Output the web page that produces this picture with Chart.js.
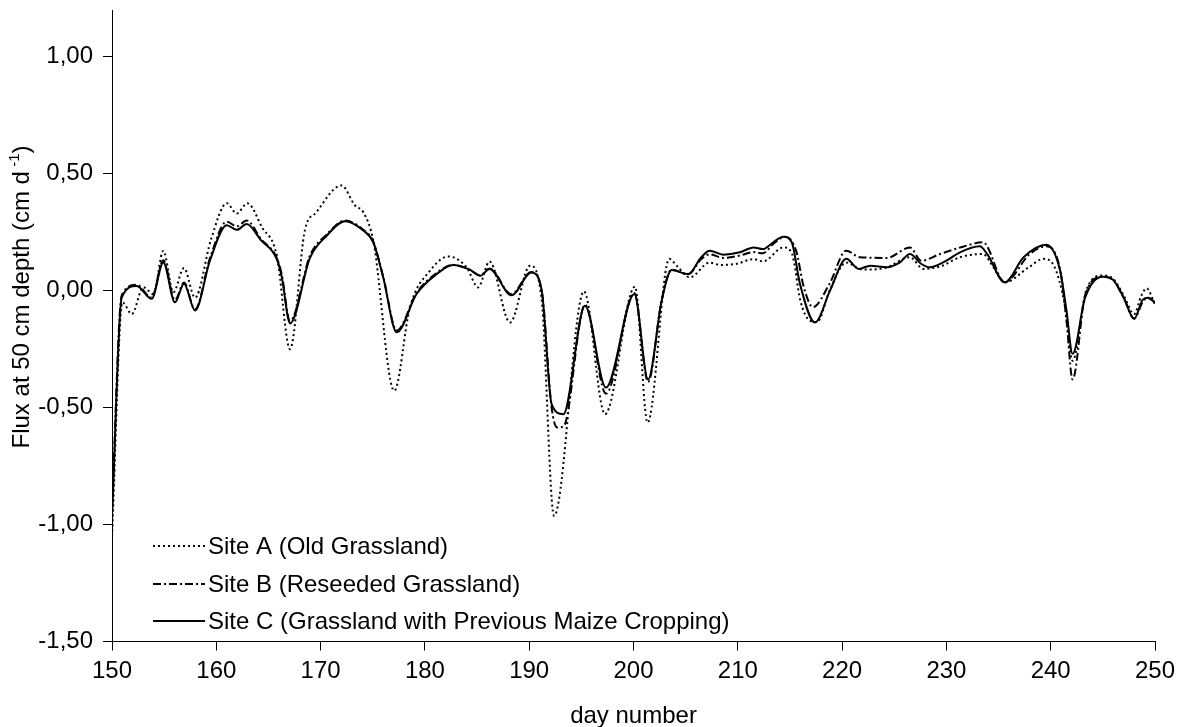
<!DOCTYPE html>
<html>
<head>
<meta charset="utf-8">
<script src="https://cdn.jsdelivr.net/npm/chart.js@4.4.0/dist/chart.umd.min.js"></script>
<style>
html,body{margin:0;padding:0;background:#ffffff;}
#wrap{width:1186px;height:727px;position:relative;}
</style>
</head>
<body>
<div id="wrap"><canvas id="c" width="1186" height="727"></canvas></div>
<script>
// ---- data ----
const xTickValues = [150,160,170,180,190,200,210,220,230,240,250];
const yTickValues = [-1.5,-1.0,-0.5,0.0,0.5,1.0];
const seriesNames = [
  'Site A (Old Grassland)',
  'Site B (Reseeded Grassland)',
  'Site C (Grassland with Previous Maize Cropping)'
];
const xAxisTitle = 'day number';
const yAxisTitleMain = 'Flux at 50 cm depth (cm d';
const yAxisTitleSup = ' -1';
const yAxisTitleEnd = ')';

const siteADays = [150,151.0,151.9,153.0,153.96,154.92,155.88,156.9,157.96,159.5,161.0,161.96,162.97,164.4,165.8,167.07,168.5,169.6,171.2,172.0,173.3,174.1,175.05,177.06,178.57,180.5,182.25,184.0,185.1,186.2,188.16,190.08,191.2,192.38,195.25,197.27,200.14,201.35,203.43,204.14,205.4,207.3,208.3,209.9,211.5,212.4,214.4,215.2,216.0,216.9,217.6,218.8,220.4,221.7,222.7,224.3,226.5,227.8,229.5,231.3,233.5,234.5,235.6,237.9,239.3,240.3,241.3,242.1,243.4,245.0,246.0,247.0,248.0,248.7,249.2,250];
const siteAFlux = [-1.05,-0.05,-0.10,0.015,-0.015,0.17,-0.007,0.097,-0.03,0.22,0.374,0.33,0.374,0.27,0.15,-0.25,0.26,0.335,0.43,0.45,0.364,0.335,0.214,-0.428,-0.07,0.086,0.146,0.10,0.014,0.125,-0.136,0.107,-0.043,-0.963,-0.003,-0.528,0.017,-0.564,0.136,0.107,0.057,0.12,0.11,0.115,0.135,0.125,0.185,0.157,-0.043,-0.128,-0.134,0.0,0.12,0.093,0.09,0.10,0.143,0.093,0.105,0.143,0.157,0.10,0.036,0.10,0.136,0.107,-0.05,-0.30,0.0,0.065,0.05,-0.02,-0.10,-0.02,0.01,-0.06];

const siteBDays = [150,150.93,152.37,153.8,154.92,156.04,156.9,157.96,159.4,161.0,161.96,162.91,164.3,165.8,166.27,167.07,168.98,170.58,172.34,174.1,175.05,176.0,177.3,179.2,181.1,182.7,184.3,185.3,186.2,188.3,190.2,191.2,192.15,192.7,193.3,195.35,197.36,200.08,201.4,202.7,203.66,205.25,206.5,207.3,208.6,210.2,211.5,212.4,213.4,214.5,215.6,216.3,217.2,218.8,220.4,221.7,224.3,226.5,227.6,229.4,231.6,233.5,235.6,238.0,239.6,240.9,241.5,242.1,243.3,245.0,246.0,247.0,248.0,248.8,249.3,250];
const siteBFlux = [-0.93,-0.02,0.025,-0.03,0.13,-0.04,0.035,-0.08,0.14,0.295,0.275,0.30,0.22,0.14,0.07,-0.13,0.15,0.24,0.30,0.26,0.21,0.06,-0.17,-0.01,0.075,0.11,0.09,0.065,0.095,-0.015,0.08,0.0,-0.50,-0.585,-0.58,-0.06,-0.44,-0.01,-0.39,-0.04,0.09,0.07,0.135,0.155,0.14,0.15,0.165,0.16,0.20,0.23,0.17,0.02,-0.07,0.03,0.171,0.143,0.14,0.185,0.128,0.157,0.188,0.207,0.036,0.157,0.19,0.09,-0.12,-0.38,-0.02,0.06,0.045,-0.03,-0.12,-0.05,-0.03,-0.05];

const siteCDays = [150,150.93,152.37,153.8,154.92,156.04,156.9,157.96,159.4,161.0,161.96,162.91,164.3,165.8,166.27,167.07,168.98,170.58,172.34,174.1,175.05,176.0,177.3,179.2,181.1,182.7,184.3,185.3,186.2,188.3,190.2,191.2,192.15,193.27,195.35,197.36,200.08,201.4,202.7,203.66,205.25,206.5,207.3,208.6,210.2,211.5,212.4,213.4,214.36,215.17,215.96,217.4,218.84,220.4,221.6,222.7,224.3,225.55,226.5,227.6,228.4,230.0,231.3,233.2,233.9,235.6,237.4,239.6,240.9,241.5,242.1,243.3,245.0,246.0,247.0,248.0,248.8,249.3,250];
const siteCFlux = [-0.97,-0.03,0.02,-0.035,0.12,-0.05,0.03,-0.085,0.13,0.28,0.26,0.285,0.215,0.135,0.06,-0.14,0.14,0.235,0.297,0.257,0.207,0.057,-0.178,-0.014,0.07,0.11,0.09,0.064,0.093,-0.02,0.078,0.0,-0.485,-0.528,-0.064,-0.414,-0.014,-0.38,-0.043,0.088,0.071,0.143,0.171,0.154,0.164,0.185,0.178,0.207,0.231,0.207,0.029,-0.136,0.0,0.136,0.093,0.107,0.10,0.121,0.157,0.114,0.10,0.128,0.164,0.19,0.157,0.036,0.143,0.196,0.086,-0.08,-0.27,-0.03,0.06,0.045,-0.03,-0.12,-0.04,-0.03,-0.05];

// ---- styles ----
const FONT = "'Liberation Sans', Arial, Helvetica, sans-serif";
const dashA = [2, 3];
const dashB = [8, 3, 2, 3];
const dashC = [];

function pairs(days, vals){ return days.map((d,i)=>({x:d, y:vals[i]})); }

const datasets = [
  {label: seriesNames[0], data: pairs(siteADays, siteAFlux), borderDash: dashA},
  {label: seriesNames[1], data: pairs(siteBDays, siteBFlux), borderDash: dashB},
  {label: seriesNames[2], data: pairs(siteCDays, siteCFlux), borderDash: dashC}
].map(d => Object.assign(d, {
  borderColor: '#000', backgroundColor: '#000', borderWidth: 2,
  pointRadius: 0, fill: false, cubicInterpolationMode: 'monotone', tension: 0.4
}));

const overlay = {
  id: 'overlay',
  afterDraw(chart){
    const ctx = chart.ctx;
    ctx.save();
    ctx.fillStyle = '#000';
    ctx.strokeStyle = '#000';
    // legend
    const rows = [546, 584, 621];
    const dashes = [dashA, dashB, dashC];
    ctx.font = '24px ' + FONT;
    ctx.textBaseline = 'middle';
    ctx.textAlign = 'left';
    for (let i = 0; i < 3; i++) {
      ctx.beginPath();
      ctx.setLineDash(dashes[i]);
      ctx.lineWidth = 2;
      ctx.moveTo(153, rows[i]);
      ctx.lineTo(205, rows[i]);
      ctx.stroke();
      ctx.setLineDash([]);
      ctx.fillText(seriesNames[i], 208, rows[i] + 1);
    }
    // x title
    const ca = chart.chartArea;
    ctx.textAlign = 'center';
    ctx.fillText(xAxisTitle, (ca.left + ca.right) / 2, 716);
    // y title with superscript
    ctx.translate(22, 297);
    ctx.rotate(-Math.PI / 2);
    ctx.textAlign = 'left';
    const bigF = '24px ' + FONT, smallF = '15px ' + FONT;
    ctx.font = bigF; const w1 = ctx.measureText(yAxisTitleMain).width;
    ctx.font = smallF; const w2 = ctx.measureText(yAxisTitleSup).width;
    ctx.font = bigF; const w3 = ctx.measureText(yAxisTitleEnd).width;
    let x0 = -(w1 + w2 + w3) / 2;
    ctx.font = bigF; ctx.fillText(yAxisTitleMain, x0, 0);
    ctx.font = smallF; ctx.fillText(yAxisTitleSup, x0 + w1, -7);
    ctx.font = bigF; ctx.fillText(yAxisTitleEnd, x0 + w1 + w2, 0);
    ctx.restore();
  }
};

Chart.defaults.font.family = FONT;
Chart.defaults.color = '#000';

new Chart(document.getElementById('c'), {
  type: 'line',
  data: { datasets },
  options: {
    responsive: false,
    animation: false,
    devicePixelRatio: 1,
    layout: { padding: { left: 0, right: 31, top: 10, bottom: 0 } },
    plugins: { legend: { display: false }, tooltip: { enabled: false }, title: { display: false } },
    scales: {
      x: {
        type: 'linear', min: 150, max: 250,
        afterBuildTicks: s => { s.ticks = xTickValues.map(v => ({value: v})); },
        afterFit: s => { s.height = 85.5; s.paddingLeft = 0; s.paddingRight = 0; },
        ticks: { font: { size: 24 }, color: '#000', padding: 6, autoSkip: false, maxRotation: 0, callback: v => String(v) },
        grid: { display: true, drawOnChartArea: false, drawTicks: true, tickLength: 9, color: '#000', tickColor: '#000', lineWidth: 1 },
        border: { display: true, color: '#000', width: 1 },
        title: { display: false }
      },
      y: {
        type: 'linear', min: -1.5, max: 1.2,
        afterBuildTicks: s => { s.ticks = yTickValues.map(v => ({value: v})); },
        afterFit: s => { s.width = 112; s.paddingTop = 0; s.paddingBottom = 0; },
        ticks: { font: { size: 24 }, color: '#000', padding: 10, autoSkip: false, callback: v => Number(v).toFixed(2).replace('.', ',') },
        grid: { display: true, drawOnChartArea: false, drawTicks: true, tickLength: 9, color: '#000', tickColor: '#000', lineWidth: 1 },
        border: { display: true, color: '#000', width: 1 },
        title: { display: false }
      }
    }
  },
  plugins: [overlay]
});
</script>
</body>
</html>
